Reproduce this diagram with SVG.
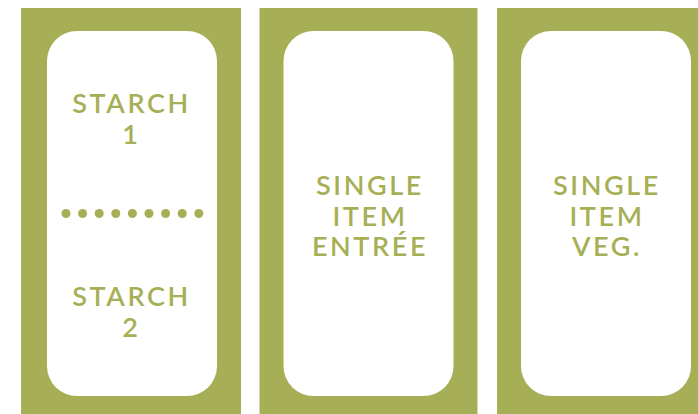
<svg xmlns="http://www.w3.org/2000/svg" width="698" height="414" viewBox="0 0 698 414">
<style>
.panel{fill:#a7af56}
.card{fill:#ffffff}
.lbl{fill:#a7af56;font-family:Lato,"Noto Sans",sans-serif;font-weight:600;font-size:27px;letter-spacing:2.6px;text-anchor:middle}
.dot{fill:#a7af56}
</style>
<rect width="698" height="414" fill="#ffffff"/>
<g id="node-starch">
<rect class="panel" x="21" y="8" width="220" height="406"/>
<rect class="card" x="47" y="31" width="170" height="365" rx="30" ry="30"/>
<text class="lbl" x="131.5" y="112.5">STARCH</text>
<text class="lbl" x="131.5" y="143.5">1</text>
<g id="separator">
<circle class="dot" cx="66" cy="213.5" r="4.5"/>
<circle class="dot" cx="82.6" cy="213.5" r="4.5"/>
<circle class="dot" cx="99.2" cy="213.5" r="4.5"/>
<circle class="dot" cx="115.8" cy="213.5" r="4.5"/>
<circle class="dot" cx="132.4" cy="213.5" r="4.5"/>
<circle class="dot" cx="149" cy="213.5" r="4.5"/>
<circle class="dot" cx="165.6" cy="213.5" r="4.5"/>
<circle class="dot" cx="182.2" cy="213.5" r="4.5"/>
<circle class="dot" cx="198.8" cy="213.5" r="4.5"/>
</g>
<text class="lbl" x="131.5" y="306">STARCH</text>
<text class="lbl" x="131.5" y="337">2</text>
</g>
<g id="node-entree">
<rect class="panel" x="259.5" y="8" width="218" height="406"/>
<rect class="card" x="283.5" y="31" width="170" height="365" rx="30" ry="30"/>
<text class="lbl" x="370" y="194.5">SINGLE</text>
<text class="lbl" x="370" y="225.5">ITEM</text>
<text class="lbl" x="370" y="256">ENTRÉE</text>
</g>
<g id="node-veg">
<rect class="panel" x="497" y="8" width="201" height="406"/>
<rect class="card" x="521" y="31" width="170" height="365" rx="30" ry="30"/>
<text class="lbl" x="607" y="194.5">SINGLE</text>
<text class="lbl" x="607" y="225.5">ITEM</text>
<text class="lbl" x="607" y="256">VEG.</text>
</g>
<g id="connectors"/>
</svg>
